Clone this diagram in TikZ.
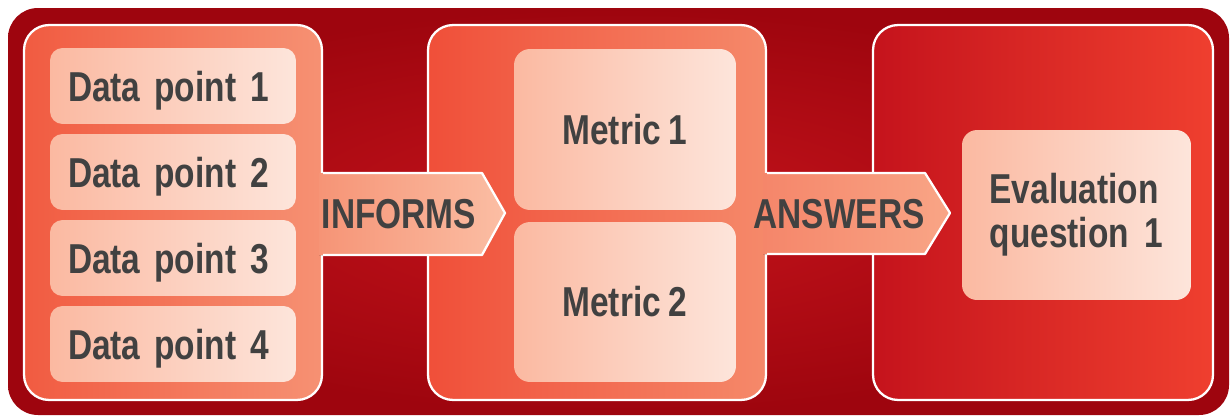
\documentclass[tikz,border=0pt]{standalone}
\usepackage{fontspec}
\newfontfamily\lblfont{Liberation Sans}[FakeStretch=0.8, WordSpace=0.85]
\definecolor{rimdark}{HTML}{9E050E}
\definecolor{rimlight}{HTML}{C4131B}
\definecolor{dataleft}{HTML}{F15B41}
\definecolor{dataright}{HTML}{F69173}
\definecolor{metricleft}{HTML}{F04F39}
\definecolor{metricright}{HTML}{F5896A}
\definecolor{evalleft}{HTML}{C5131C}
\definecolor{evalright}{HTML}{EF3F2F}
\definecolor{boxleft}{HTML}{FBB9A1}
\definecolor{boxright}{HTML}{FDE5DB}
\definecolor{infleft}{HTML}{F69476}
\definecolor{infright}{HTML}{FBBEA4}
\definecolor{ansleft}{HTML}{F5866A}
\definecolor{ansright}{HTML}{F9A586}
\definecolor{ink}{HTML}{414141}
\begin{document}
\begin{tikzpicture}
  [
    x=0.02cm, y=-0.02cm,
    lbl/.style={text=ink, font=\lblfont\bfseries\fontsize{23.8pt}{25pt}\selectfont},
    panel/.style={draw=white, line width=1.3pt, rounded corners=0.5cm,
    inner sep=0, minimum height=7.5cm},
    box/.style={lbl, rounded corners=0.25cm, left color=boxleft,
    right color=boxright, inner sep=0},
    datum/.style={box, minimum height=1.52cm, text width=4.2cm,
    inner xsep=0.36cm, align=left, text depth=0pt},
    metric/.style={box, rounded corners=0.32cm, minimum width=4.44cm},
    rim/.style={draw=white, line width=1.3pt, line join=round}
  ]
  \useasboundingbox (0,0) rectangle (1230,416);
  % outer frame
  \shade [inner color=rimlight, outer color=rimdark, rounded corners=0.6cm]
    (8,8) rectangle (1229,415);

  % the three panels
  \node (data) at (173,212.5) [panel, minimum width=5.96cm,
    left color=dataleft, right color=dataright] {};
  \node (metrics) at (597,212.5) [panel, minimum width=6.76cm,
    left color=metricleft, right color=metricright] {};
  \node (evals) at (1043,212.5) [panel, minimum width=6.8cm,
    left color=evalleft, middle color=evalright, right color=evalright] {};

  % block arrows
  \fill [left color=infleft, right color=infright]
    (319,173) -- (482,173) -- (505,213) -- (482,255) -- (319,255) -- cycle;
  \draw [rim] (323,173) -- (482,173) -- (505,213) -- (482,255) -- (323,255);
  \node (informs) at (399,214) [lbl] {INFORMS};

  \fill [left color=ansleft, right color=ansright]
    (763,173) -- (925,173) -- (950,213) -- (925,254) -- (763,254) -- cycle;
  \draw [rim] (767,173) -- (925,173) -- (950,213) -- (925,254) -- (767,254);
  \node (answers) at (839,214) [lbl] {ANSWERS};

  % data points
  \node (d1) at (173, 86) [datum] {Data point 1};
  \node (d2) at (173,172) [datum] {Data point 2};
  \node (d3) at (173,258) [datum] {Data point 3};
  \node (d4) at (173,344) [datum] {Data point 4};

  % metrics
  \node (m1) at (625,129.5) [metric, minimum height=3.22cm] {Metric 1};
  \node (m2) at (625,302) [metric, minimum height=3.2cm] {Metric 2};

  % evaluation question
  \node (q1) at (1076.5,215) [box, rounded corners=0.3cm, minimum width=4.58cm,
    minimum height=3.4cm, align=left] {Evaluation\\question~~1};
\end{tikzpicture}
\end{document}
